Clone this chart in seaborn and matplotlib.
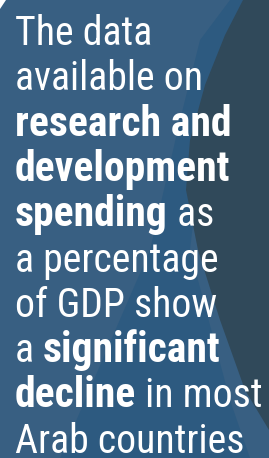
import matplotlib
matplotlib.use("Agg")
import matplotlib.pyplot as plt
import seaborn as sns
from matplotlib import font_manager
from matplotlib.patches import Polygon

sns.set_style("white")

# Text content: each line is a list of (segment, is_bold)
lines = [
    [("The data", False)],
    [("available on", False)],
    [("research and", True)],
    [("development", True)],
    [("spending", True), (" as", False)],
    [("a percentage", False)],
    [("of GDP show", False)],
    [("a ", False), ("significant", True)],
    [("decline", True), (" in most", False)],
    [("Arab countries", False)],
]

names = {f.name for f in font_manager.fontManager.ttflist}
family = "Roboto"
for cand in ["Roboto Condensed", "Liberation Sans Narrow", "DejaVu Sans Condensed", "Roboto"]:
    if cand in names:
        family = cand
        break

W, H, DPI = 269, 458, 100
fig = plt.figure(figsize=(W / DPI, H / DPI), dpi=DPI)
fig.patch.set_facecolor("#385f82")
ax = fig.add_axes([0, 0, 1, 1])
ax.set_xlim(0, W)
ax.set_ylim(H, 0)
ax.axis("off")
ax.set_facecolor("#385f82")

# lighter band
ax.add_patch(Polygon([(150, 458), (60, 458), (150, 250), (180, 120), (200, 40), (230, 0),
                      (245, 0), (205, 120), (190, 250), (230, 400), (250, 458)],
                     closed=True, facecolor="#2d5a80", edgecolor="none"))
# dark region
ax.add_patch(Polygon([(243, 0), (269, 0), (269, 430), (245, 390), (220, 320), (198, 250),
                      (186, 190), (190, 140), (205, 85), (225, 35)],
                     closed=True, facecolor="#30495a", edgecolor="none"))
ax.add_patch(Polygon([(0, 0), (6, 0), (0, 9)], closed=True, facecolor="white", edgecolor="none"))

fs_bold = 30
fs_reg = 28.6
x0 = 15
base0 = 45
step = 45.3
renderer = fig.canvas.get_renderer()
inv = ax.transData.inverted()
for i, segs in enumerate(lines):
    y = base0 + i * step
    x = x0
    for txt, bold in segs:
        t = ax.text(x, y, txt, fontsize=fs_bold if bold else fs_reg, color="white",
                    family=[family, "DejaVu Sans"],
                    fontweight="bold" if bold else "normal", va="baseline", ha="left")
        bb = t.get_window_extent(renderer)
        x = inv.transform((bb.x1, bb.y0))[0]

fig.savefig("out.png", dpi=DPI, facecolor=fig.get_facecolor())
